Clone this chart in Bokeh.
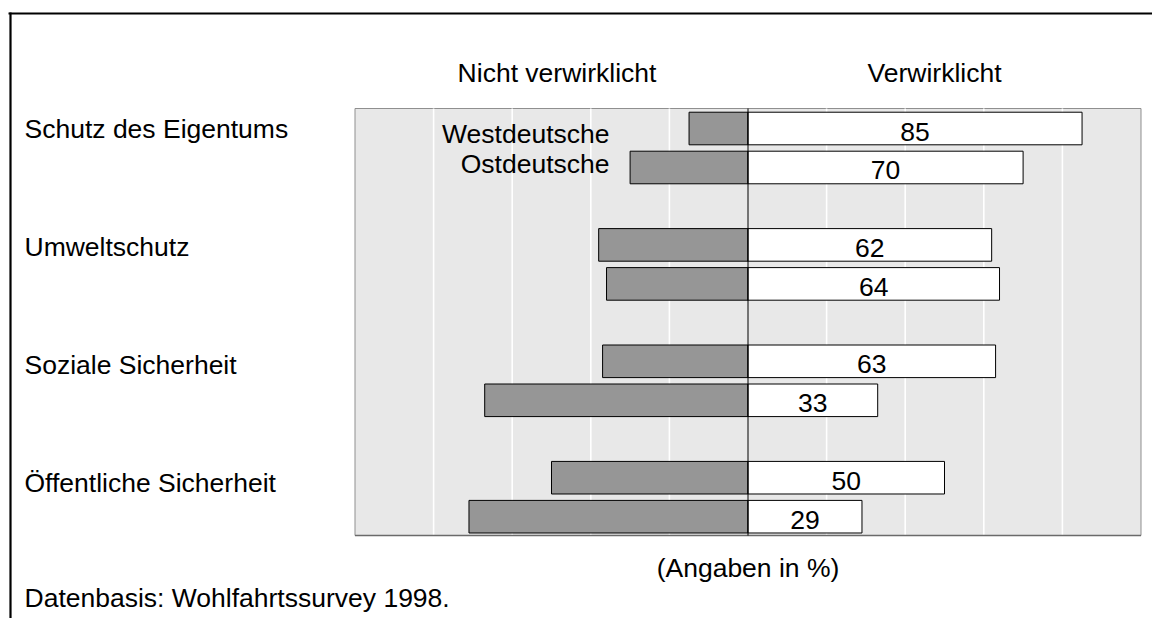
from bokeh.plotting import figure
from bokeh.models import Range1d, ColumnDataSource
from bokeh.core.properties import value
from bokeh.embed import file_html
from bokeh.resources import INLINE

# ---------------- data ----------------
categories = ["Schutz des Eigentums", "Umweltschutz", "Soziale Sicherheit", "Öffentliche Sicherheit"]
west_yes = [85, 62, 63, 50]
west_no = [15, 38, 37, 50]
east_yes = [70, 64, 33, 29]
east_no = [30, 36, 67, 71]
grid_ticks = [-80, -60, -40, -20, 20, 40, 60, 80]
header_left = "Nicht verwirklicht"
header_right = "Verwirklicht"
legend_labels = ["Westdeutsche", "Ostdeutsche"]
note_unit = "(Angaben in %)"
note_source = "Datenbasis: Wohlfahrtssurvey 1998."

# ---------------- layout helpers (reference pixel -> data) ----------------
W, H = 1152, 618
PX_PER_PCT = 3.93
X0 = 747.5              # canvas x of 0 %
PITCH = 116.4           # px per category group
Y0 = 147.5              # canvas y of first group centre


def xd(px):
    return (px - X0) / PX_PER_PCT


def yd(py):
    return (py - Y0) / PITCH


FONT = value("Liberation Sans")
FS = "26.5px"
CAP = 0.0  # baseline correction in px

p = figure(width=W, height=H, x_range=Range1d(xd(0), xd(W)),
           y_range=Range1d(yd(H), yd(0)),
           output_backend="svg", toolbar_location=None,
           x_axis_type=None, y_axis_type=None, min_border=0)
p.outline_line_color = None
p.background_fill_color = "white"
p.border_fill_color = "white"

top, bottom = yd(108), yd(535)

# plot area
p.quad(left=-100, right=100, top=top, bottom=bottom,
       fill_color="#e8e8e8", line_color="#8f8f8f", line_width=1)
p.segment(x0=grid_ticks, y0=[top] * len(grid_ticks), x1=grid_ticks,
          y1=[bottom] * len(grid_ticks), line_color="white", line_width=1.6)

n = len(categories)
off = 0.1675
bh = 0.28
y_w = [i - off for i in range(n)]
y_e = [i + off for i in range(n)]

src = ColumnDataSource(dict(
    y=y_w + y_e,
    no=[-v for v in west_no] + [-v for v in east_no],
    yes=west_yes + east_yes,
    mid=[v / 2 for v in west_yes + east_yes],
    lab=[str(v) for v in west_yes + east_yes],
    ylab=[y + (3 + CAP) / PITCH for y in y_w + y_e],
))

p.hbar(y="y", left="no", right=0, height=bh, source=src,
       fill_color="#969696", line_color="black", line_width=1)
p.hbar(y="y", left=0, right="yes", height=bh, source=src,
       fill_color="white", line_color="black", line_width=1)

# bottom border and centre line
p.segment(x0=[-100], y0=[bottom], x1=[100], y1=[bottom], line_color="#6a6a6a", line_width=1.5)
p.segment(x0=[0], y0=[top], x1=[0], y1=[bottom], line_color="black", line_width=1)

# value labels
p.text(x="mid", y="ylab", text="lab", source=src, text_font=FONT,
       text_font_size=FS, text_align="center", text_baseline="alphabetic",
       text_color="black")

# category labels
p.text(x=[xd(24)] * n,
       y=[y_w[i] + (i * 1.7 + CAP) / PITCH for i in range(n)],
       text=categories, text_font=FONT, text_font_size=FS,
       text_align="left", text_baseline="alphabetic", text_color="black")

# legend labels
p.text(x=[xd(609)] * 2, y=[yd(133 + CAP), yd(163 + CAP)], text=legend_labels,
       text_font=FONT, text_font_size=FS, text_align="right",
       text_baseline="alphabetic", text_color="black")

# headers
p.text(x=[xd(556.5), xd(934)], y=[yd(72.5 + CAP)] * 2,
       text=[header_left, header_right], text_font=FONT, text_font_size=FS,
       text_align="center", text_baseline="alphabetic", text_color="black")

# notes
p.text(x=[0], y=[yd(567 + CAP)], text=[note_unit], text_font=FONT,
       text_font_size=FS, text_align="center", text_baseline="alphabetic",
       text_color="black")
p.text(x=[xd(24)], y=[yd(597.5 + CAP)], text=[note_source], text_font=FONT,
       text_font_size=FS, text_align="left", text_baseline="alphabetic",
       text_color="black")

# outer frame (top and left lines)
p.segment(x0=[xd(8)], y0=[yd(13)], x1=[xd(W)], y1=[yd(13)],
          line_color="black", line_width=2.2)
p.segment(x0=[xd(10)], y0=[yd(12)], x1=[xd(10)], y1=[yd(H)],
          line_color="black", line_width=2.2)

open("out.html", "w").write(file_html(p, INLINE))
